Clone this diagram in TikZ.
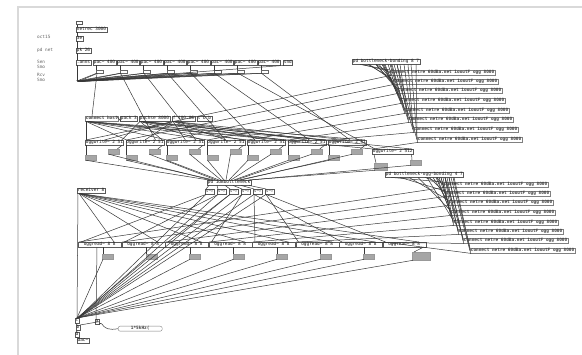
\documentclass[tikz,border=0pt]{standalone}
\usepackage{fontspec}
\setmonofont{DejaVu Sans Mono}
\usetikzlibrary{calc}
\newcommand\pdtxt{\fontsize{4.4}{5}\selectfont\ttfamily}
\tikzset{
  pdobj/.style={draw=black!65, line width=0.4pt, inner xsep=0.7pt, inner ysep=0.4pt,
    text height=3.3pt, text depth=0.9pt, anchor=north west, font=\pdtxt, text=black!90},
  pdmsg/.style={pdobj, draw=black!50, text=black!75, font=\pdtxt\bfseries},
  gbox/.style={fill=black!35, draw=black!40, line width=0.3pt, minimum width=11pt,
    minimum height=5pt, inner sep=0pt, anchor=north west},
  tickbox/.style={draw=black!60, line width=0.3pt, minimum width=7pt, minimum height=3pt,
    inner sep=0pt, anchor=north west},
  wire/.style={draw=black!78, line width=0.5pt},
  note/.style={font=\pdtxt, text=black!60, anchor=north west, inner sep=0pt, align=left}
}
\begin{document}
\begin{tikzpicture}[x=1pt,y=-1pt]
\useasboundingbox (0,0) rectangle (582,355);
\fill[white] (0,0) rectangle (582,355);
\draw[black!15, line width=1.5pt] (18,355) -- (18,7) -- (582,7);

% ---- left comments
\node[note] (n0) at (37,35) {oct15};
\node[note] (n1) at (37,48) {pd net};
\node[note] (n2) at (37,60) {Sen\\Smo};
\node[note] (n3) at (37,73) {Rcv\\Smo};

% ---- top rack
\node[pdobj, minimum width=6pt, minimum height=3.5pt, inner sep=0pt, text height=0pt, text depth=0pt] (tA) at (76,21) {};
\node[pdobj] (tB) at (76,27) {netrec 3000};
\node[pdobj] (tC) at (76,36) {3e};
\node[pdobj] (tD) at (76,48) {pk 26};
\node[pdobj] (r0) at (76,60) {.anns};
\foreach \i in {1,...,8} {
  \node[pdobj] (r\i) at ({93+23.5*(\i-1)},60) {pac\textasciitilde{} 400};
  \node[tickbox] (k\i) at ({96+23.5*(\i-1)},70) {};
  \draw[wire] ($(r\i.south west)+(3.5,0)$) -- ($(k\i.north west)+(0.5,0)$);
}
\node[pdobj] (r9) at (283,60) {snd};
\coordinate (sp) at (77,81);
\draw[wire] ($(tA.south west)+(1,0)$) -- ($(tB.north west)+(1,0)$);
\draw[wire] ($(tB.south west)+(1,0)$) -- ($(tC.north west)+(1,0)$);
\draw[wire] ($(tC.south west)+(1,0)$) -- ($(tD.north west)+(1,0)$);
\draw[wire] ($(tD.south west)+(1,0)$) -- ($(r0.north west)+(1,0)$);
\draw[wire] ($(r0.south west)+(1,0)$) -- (sp);
\foreach \i in {1,...,8} {
  \draw[wire] ($(k\i.south west)+(0.5,0)$) -- (sp);
  \draw[wire] ($(k\i.south west)+(1.5,0)$) -- ($(sp)+(1,0.6)$);
}
\draw[wire] ($(r9.south west)+(1,0)$) -- (sp);

% ---- row B
\node[pdmsg] (B0) at (85,116) {connect host};
\node[pdobj] (B1) at (120,116) {pack 3};
\node[pdobj] (B2) at (139,116) {pachse 8000};
\node[pdobj] (B3) at (172,116) {f 100 86};
\node[pdobj] (B4) at (197,116) {t b b};

% ---- row C
\foreach \i in {0,...,6}
  \node[pdobj] (C\i) at ({85+40.5*\i},140) {oggwrite\textasciitilde{} 2 51};
\node[pdobj] (C7) at (372,149) {oggwrite\textasciitilde{} 2 512};

% diagonals from the rack
\draw[wire] ($(k1.south west)+(1,0)$) -- ($(B0.north west)+(7,0)$);
\draw[wire] ($(k2.south west)+(1,0)$) -- ($(C1.north west)+(30,0)$);
\draw[wire] ($(k3.south west)+(1,0)$) -- ($(C2.north west)+(30,0)$);
\draw[wire] ($(k4.south west)+(1,0)$) -- ($(C3.north west)+(19,0)$);
\draw[wire] ($(k5.south west)+(1,0)$) -- ($(C4.north west)+(8,0)$);
\draw[wire] ($(k6.south west)+(1,0)$) -- ($(C5.north west)+(22,0)$);
\draw[wire] ($(k7.south west)+(1,0)$) -- ($(C7.north west)+(3,0)$);
\draw[wire] ($(k8.south west)+(1,0)$) -- ($(C6.north west)+(22,0)$);

% row B to row C
\foreach \i in {0,...,7} {
  \draw[wire] ($(B0.south west)+(1,0)$) -- ($(C\i.north west)+(1,0)$);
  \draw[wire] ($(B2.south west)+(1,0)$) -- ($(C\i.north east)+(-2,0)$);
}
\foreach \i in {0,...,6}
  \draw[wire] ($(B3.south west)+(1,0)$) -- (C\i.north);
\draw[wire] ($(B1.south west)+(1,0)$) -- ($(B0.north east)+(-2,0)$);

% ---- upper right bonding
\node[pdobj] (U) at (352,59) {pd bottleneck-bonding 8 7};
\foreach \i/\x/\y in {0/390/70,1/393/79,2/397/88,3/400/98,4/404/108,5/408/117,6/413/127,7/417/137} {
  \node[pdmsg] (M\i) at (\x,\y) {connect netre 60dBa.net 1ooutF ogg 8000};
  \draw[wire] ($(U.south west)+({8+8*\i},0)$) -- (M\i.north west);
  \draw[wire] ($(U.south west)+({10+7*\i},0)$) -- ($(M\i.north west)+(0,1.5)$);
  \draw[wire] ($(U.south west)+({24+3*\i},0)$) -- ($(M\i.north west)+(0,3)$);
  \draw[wire] ($(M\i.south west)+(1,0)$) -- ($(C\i.north west)+(1,0)$);
}

% gray boxes under row C
\foreach \i in {0,...,6} {
  \node[gbox] (GA\i) at ({108+40.5*\i},149) {};
  \node[gbox] (GB\i) at ({85+40.5*\i},155) {};
  \draw[wire] ($(C\i.south west)+(1,0)$) -- ($(GB\i.north west)+(1,0)$);
  \draw[wire] ($(C\i.south east)+(-2,0)$) -- ($(GA\i.north east)+(-2,0)$);
}
\node[gbox, minimum width=13pt, minimum height=7pt] (GB7) at (374,163) {};
\node[gbox] (GA7) at (410,160) {};
\draw[wire] ($(C7.south west)+(2,0)$) -- ($(GB7.north west)+(2,0)$);
\draw[wire] ($(C7.south east)+(-2,0)$) -- ($(GA7.north west)+(2,0)$);

% ---- central pd
\node[pdobj] (P) at (207,180) {pd 1dBbottleneck};
\foreach \i in {0,...,6} {
  \draw[wire] ($(GB\i.south west)+(1,0)$) -- ($(P.north west)+({2+5*\i},0)$);
  \draw[wire] ($(GA\i.south west)+(1,0)$) -- ($(P.north west)+({4+5*\i},0)$);
}
\draw[wire] ($(GB7.south west)+(1,0)$) -- ($(P.north east)+(-2,0)$);
\draw[wire] ($(GA7.south west)+(1,0)$) -- ($(P.north east)+(-1,0)$);
\foreach \j in {0,...,5} {
  \node[pdobj, text=black!75] (Q\j) at ({205+12*\j},189) {s\textasciitilde r};
  \draw[wire] ($(P.south west)+({2+8*\j},0)$) -- ($(Q\j.north west)+(1,0)$);
}

% ---- lower section
\node[pdobj] (R) at (77,188) {receiver 8};
\foreach \j in {0,...,7}
  \node[pdobj, minimum width=43pt] (D\j) at ({78+43.5*\j},242) {oggread\textasciitilde{} 8 8};
\foreach \j in {0,...,6} {
  \node[gbox] (DG\j) at ({102+43.5*\j},254) {};
  \draw[wire] ($(D\j.south west)+(25,0)$) -- ($(DG\j.north west)+(1,0)$);
}
\node[gbox, minimum width=18pt, minimum height=8pt] (DG7) at (412,252) {};
\draw[wire] ($(D7.south east)+(-3,0)$) -- ($(DG7.north west)+(2,0)$);

\foreach \j in {0,...,7}
  \draw[wire] ($(R.south west)+(2,0)$) -- ($(D\j.north west)+(36,0)$);
\foreach \j in {0,...,5}
  \draw[wire] ($(Q\j.south west)+(1,0)$) -- ($(D\j.north west)+(3,0)$);
\draw[wire] ($(Q4.south west)+(1,0)$) -- ($(D6.north west)+(3,0)$);
\draw[wire] ($(Q5.south west)+(1,0)$) -- ($(D7.north west)+(3,0)$);

% lower right bonding
\node[pdobj] (L) at (385,172) {pd bottleneck-ogg-bonding 4 7};
\foreach \k/\x/\y in {0/443/182,1/445/191,2/448/200,3/450/210,4/453/220,5/458/229,6/463/238,7/470/248} {
  \node[pdmsg] (N\k) at (\x,\y) {connect netre 60dBa.net 1ooutF ogg 8000};
  \draw[wire] ($(L.south west)+({6+9*\k},0)$) -- (N\k.north west);
  \draw[wire] ($(L.south west)+({40+4*\k},0)$) -- ($(N\k.north west)+(0,1.5)$);
  \draw[wire] ($(L.south west)+({52+2*\k},0)$) -- ($(N\k.north west)+(0,3)$);
  \draw[wire] ($(N\k.south west)+(1,0)$) -- ($(D\k.north west)+(1,0)$);
}

% bottom cluster
\node[pdobj, inner xsep=0.5pt] (Z0) at (75,318) {t};
\node[pdobj, inner xsep=0.5pt] (Z1) at (95,319) {a};
\node[pdobj, inner xsep=0.5pt] (Z2) at (76,325) {b};
\node[pdobj, inner xsep=0.5pt] (Z3) at (75,332) {d};
\node[pdobj, inner xsep=0.5pt] (Z4) at (77,338) {dac\textasciitilde};
\node[pdmsg, rounded corners=2pt, minimum width=44pt] (Zm) at (118,326) {1*5kHz(};

\draw[wire] ($(R.south west)+(1,0)$) -- ($(Z0.north west)+(2,0)$);
\foreach \j in {0,...,7}
  \draw[wire] ($(DG\j.south west)+(1,0)$) -- ($(Z0.north west)+(2,0)$);
\foreach \j in {0,...,5}
  \draw[wire] ($(Q\j.south west)+(1,0)$) -- ($(Z0.north west)+(3,0)$);
\draw[wire] ($(D0.south west)+(19,0)$) -- ($(Z1.north west)+(1,0)$);
\draw[wire] ($(Z0.south west)+(1,0)$) -- ($(Z2.north west)+(1,0)$);
\draw[wire] ($(Z2.south west)+(1,0)$) -- ($(Z3.north west)+(1,0)$);
\draw[wire] ($(Z3.south west)+(1,0)$) -- ($(Z4.north west)+(1,0)$);
\draw[wire] (Z1.south east) .. controls (104,320) and (100,332) .. (Zm.west);
\draw[wire] (Z1.east) -- (Z2.north east);
\end{tikzpicture}
\end{document}
